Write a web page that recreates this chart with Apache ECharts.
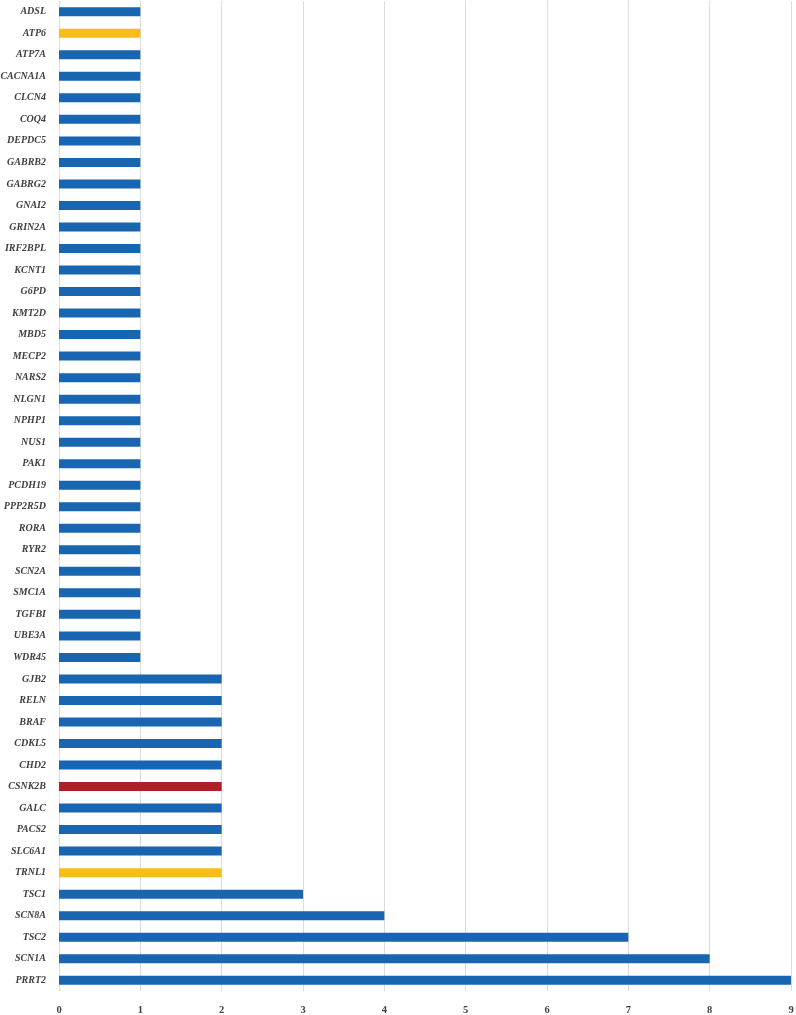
<!DOCTYPE html>
<html><head><meta charset="utf-8">
<script src="https://cdn.jsdelivr.net/npm/echarts@6/dist/echarts.min.js"></script>
<style>html,body{margin:0;padding:0;background:#fff}#c{width:796px;height:1015px}</style>
</head><body><div id="c"></div>
<script>
var genes = ['ADSL','ATP6','ATP7A','CACNA1A','CLCN4','COQ4','DEPDC5','GABRB2','GABRG2','GNAI2','GRIN2A','IRF2BPL','KCNT1','G6PD','KMT2D','MBD5','MECP2','NARS2','NLGN1','NPHP1','NUS1','PAK1','PCDH19','PPP2R5D','RORA','RYR2','SCN2A','SMC1A','TGFBI','UBE3A','WDR45','GJB2','RELN','BRAF','CDKL5','CHD2','CSNK2B','GALC','PACS2','SLC6A1','TRNL1','TSC1','SCN8A','TSC2','SCN1A','PRRT2'];
var counts = [1,1,1,1,1,1,1,1,1,1,1,1,1,1,1,1,1,1,1,1,1,1,1,1,1,1,1,1,1,1,1,2,2,2,2,2,2,2,2,2,2,3,4,7,8,9];
var groups = ['b','y','b','b','b','b','b','b','b','b','b','b','b','b','b','b','b','b','b','b','b','b','b','b','b','b','b','b','b','b','b','b','b','b','b','b','r','b','b','b','y','b','b','b','b','b'];
var palette = {b:'#1866B2', y:'#F8BD1C', r:'#B21E25'};
var data = counts.map(function(v,i){return {value:v,itemStyle:{color:palette[groups[i]]}};});
var chart = echarts.init(document.getElementById('c'));
chart.setOption({
  animation:false,
  grid:{left:59,right:5,top:1,bottom:24,containLabel:false,outerBoundsMode:'none'},
  xAxis:{type:'value',min:0,max:9,interval:1,
    axisLine:{show:false},axisTick:{show:false},
    splitLine:{lineStyle:{color:'#dcdcdc',width:1}},
    axisLabel:{margin:14,color:'#404040',fontFamily:'Liberation Serif',fontWeight:'bold',fontSize:10.5}},
  yAxis:{type:'category',data:genes,inverse:true,
    axisLine:{show:true,lineStyle:{color:'#dcdcdc'}},axisTick:{show:false},
    axisLabel:{margin:13,color:'#404040',fontFamily:'Liberation Serif',fontWeight:'bold',fontStyle:'italic',fontSize:10}},
  series:[{type:'bar',data:data,barWidth:9}]
});
</script></body></html>
